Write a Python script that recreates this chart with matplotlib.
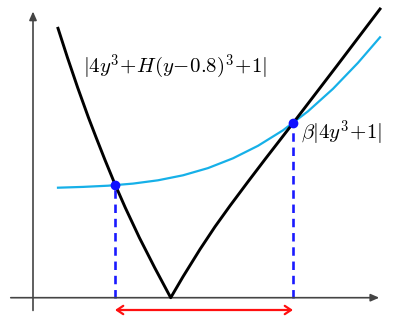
import matplotlib
matplotlib.use('Agg')
import matplotlib.pyplot as plt

plt.rcParams['mathtext.fontset'] = 'cm'

# points (origin where the two axes cross)
black_x = [0.25, 0.345, 0.447, 0.555, 0.632, 0.72, 0.82, 0.923, 1.064, 1.217, 1.377,
           1.5, 1.67, 1.82, 1.97, 2.15, 2.325, 2.60, 3.04, 3.47]
black_y = [2.694, 2.4, 2.1, 1.8, 1.6, 1.377, 1.134, 0.9, 0.6, 0.3, 0.0,
           0.21, 0.484, 0.71, 0.919, 1.16, 1.39, 1.745, 2.32, 2.887]

cyan_x = [0.25, 0.5, 0.75, 1.0, 1.25, 1.5, 1.75, 2.0, 2.25, 2.5, 2.75, 3.0, 3.25, 3.47]
cyan_y = [1.100, 1.108, 1.120, 1.141, 1.174, 1.224, 1.296, 1.394, 1.519, 1.674, 1.864, 2.089, 2.349, 2.604]

cross_x = [0.82, 2.60]
cross_y = [1.13, 1.742]

label_black = r'$|4y^3\!+\!H(y\!-\!0.8)^3\!+\!1|$'
label_cyan = r'$\beta|4y^3\!+\!1|$'

fig = plt.figure(figsize=(4.02, 3.22), dpi=100)
ax = fig.add_axes([0, 0, 1, 1])
ax.set_xlim(-0.33, 3.69)
ax.set_ylim(-0.243, 2.977)
ax.axis('off')

# axes with arrow heads
ax.annotate('', xy=(3.49, 0), xytext=(-0.25, 0),
            arrowprops=dict(arrowstyle='-|>,head_length=0.5,head_width=0.22', color='#444444', lw=1.2))
ax.annotate('', xy=(0, 2.89), xytext=(0, -0.155),
            arrowprops=dict(arrowstyle='-|>,head_length=0.5,head_width=0.22', color='#444444', lw=1.2))

ax.plot(cyan_x, cyan_y, color='#16b0e8', lw=1.6, solid_joinstyle='round', zorder=3)
ax.plot(black_x, black_y, color='black', lw=2.1, solid_joinstyle='round', zorder=4)

for cx, cy in zip(cross_x, cross_y):
    ax.plot([cx, cx], [0, cy], color='#1a1aff', lw=1.9, ls=(0, (3.2, 2.2)), zorder=2)
ax.plot(cross_x, cross_y, 'o', color='#1010ff', ms=6, zorder=5)

ax.annotate('', xy=(cross_x[0], -0.123), xytext=(cross_x[1], -0.123),
            arrowprops=dict(arrowstyle='<->,head_length=0.45,head_width=0.3', color='#ff1010', lw=1.6,
                            shrinkA=0, shrinkB=0))

ax.text(0.50, 2.307, label_black, fontsize=15, va='center', ha='left')
ax.text(2.68, 1.647, label_cyan, fontsize=15, va='center', ha='left')

fig.savefig('out.png', dpi=100)
